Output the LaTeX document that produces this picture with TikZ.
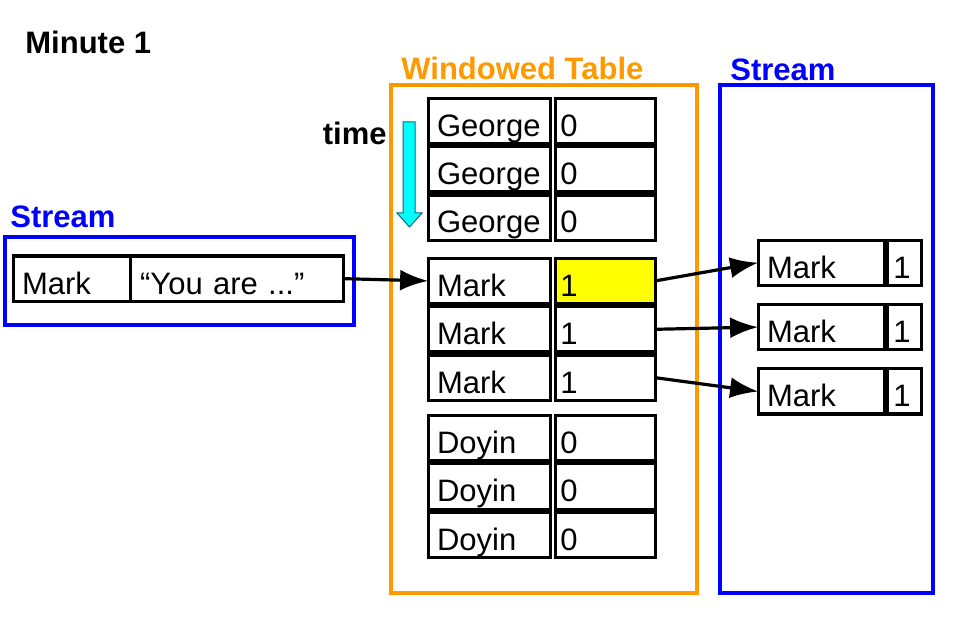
\documentclass[tikz,border=0pt]{standalone}
\usepackage{fontspec}
\setmainfont{Liberation Sans}
\usepackage{tikz}
\usetikzlibrary{arrows.meta}
\usetikzlibrary{positioning}
\definecolor{wtorange}{RGB}{255,153,0}
\definecolor{timecyan}{RGB}{0,255,255}
\definecolor{timeedge}{RGB}{0,110,120}
\definecolor{hilite}{RGB}{255,255,0}
\tikzset{cell/.style={draw,line width=1.6pt,inner xsep=4.5pt,inner ysep=0pt,
                      text height=19pt,text depth=3.6pt,align=left}}
\tikzset{keycell/.style={cell,text width=52pt}}
\tikzset{valcell/.style={cell,text width=45pt,inner xsep=2.5pt}}

\begin{document}
\begin{tikzpicture}[x=0.5pt,y=-0.5pt,>={Latex[length=14pt,width=10.5pt]},
                    font=\fontsize{15.5}{18}\selectfont]
  \tikzstyle{heading}=[font=\fontsize{15.5}{18}\selectfont\bfseries,anchor=west,inner sep=0pt]
  \tikzstyle{box}=[draw,line width=1.6pt]
  \useasboundingbox (0,0) rectangle (959,620);

  % Labels
  \node (minute) [heading] at (25,42) {Minute 1};
  \node (wt_label) [heading,text=wtorange] at (401,68) {Windowed Table};
  \node (out_label) [heading,text=blue] at (730,70) {Stream};
  \node (in_label) [heading,text=blue] at (10,217) {Stream};
  \node (time) [heading,anchor=east] at (387,133) {time};

  % Frames round the table and the two streams
  \draw[box,wtorange] (391,85) rectangle (697,593);
  \draw[box,blue] (720,85) rectangle (933,593);
  \draw[box,blue] (5,237) rectangle (354,325);

  % time arrow
  \draw[fill=timecyan,draw=timeedge,line width=0.5pt] (403,122) -- (415,122) -- (415,213)
    -- (422,213) -- (409.5,227) -- (397,213) -- (403,213) -- cycle;

  % Incoming record
  \node (in_key) [cell,text width=49.5pt,anchor=north west] at (11.5,254.5) {Mark};
  \node (in_val) [cell,text width=96.5pt,inner xsep=5pt,right=-1.6pt of in_key] {“You are ...”};

  % The windowed table
  \matrix (wtable) [anchor=north west,inner sep=0pt,outer sep=0pt,row sep=0pt,column sep=1pt]
    at (426.5,96.5) {
    \node (george_1) [keycell] {George}; & \node (george_1_v) [valcell] {0}; \\
    \node (george_2) [keycell] {George}; & \node (george_2_v) [valcell] {0}; \\
    \node (george_3) [keycell] {George}; & \node (george_3_v) [valcell] {0}; \\[7.5pt]
    \node (mark_1) [keycell] {Mark}; & \node (mark_1_v) [valcell,fill=hilite] {1}; \\
    \node (mark_2) [keycell] {Mark}; & \node (mark_2_v) [valcell] {1}; \\
    \node (mark_3) [keycell] {Mark}; & \node (mark_3_v) [valcell] {1}; \\[6pt]
    \node (doyin_1) [keycell] {Doyin}; & \node (doyin_1_v) [valcell] {0}; \\
    \node (doyin_2) [keycell] {Doyin}; & \node (doyin_2_v) [valcell] {0}; \\
    \node (doyin_3) [keycell] {Doyin}; & \node (doyin_3_v) [valcell] {0}; \\
  };

  % Outgoing stream
  \matrix (out) [anchor=north west,inner sep=0pt,outer sep=0pt,row sep=8pt,column sep=0pt]
    at (756.5,238.5) {
    \node (out_1) [keycell,text width=54pt] {Mark}; &
      \node (out_1_v) [valcell,text width=11pt,inner xsep=3pt] {1}; \\
    \node (out_2) [keycell,text width=54pt] {Mark}; &
      \node (out_2_v) [valcell,text width=11pt,inner xsep=3pt] {1}; \\
    \node (out_3) [keycell,text width=54pt] {Mark}; &
      \node (out_3_v) [valcell,text width=11pt,inner xsep=3pt] {1}; \\
  };

  % Connections
  \path[->,line width=1.6pt]
    (in_val.east) edge (mark_1.west)
    (mark_1_v.east) edge (out_1.west)
    (mark_2_v.east) edge (out_2.west)
    (mark_3_v.east) edge (out_3.west);
\end{tikzpicture}
\end{document}
